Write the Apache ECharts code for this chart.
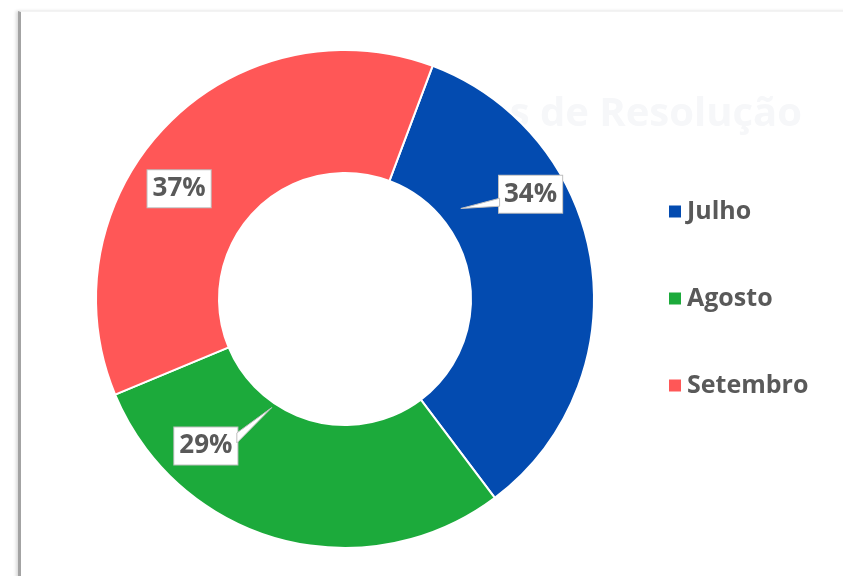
<!DOCTYPE html>
<html>
<head>
<meta charset="utf-8">
<script src="https://cdn.jsdelivr.net/npm/echarts@6/dist/echarts.min.js"></script>
<style>
  html, body { margin: 0; padding: 0; background: #fff; }
  .card {
    position: absolute; left: 18px; top: 11px; width: 830px; height: 570px;
    border-left: 3px solid #a3a3a3; border-top: 1px solid #f3f3f3;
    box-shadow: -2px 0 3px rgba(0,0,0,0.15);
  }
  #chart { position: absolute; left: 0; top: 0; width: 843px; height: 576px; }
</style>
</head>
<body>
<div class="card"></div>
<div id="chart"></div>
<script>
  // dados do gráfico
  var meses = ['Julho', 'Agosto', 'Setembro'];
  var valores = [34, 29, 37];
  var cores = ['#034bb0', '#1caa3b', '#ff5757'];
  var titulo = 'Tempos de Resolução';

  var centro = [345, 299];
  var raios = [126, 249];
  var inicio = 69.4;
  var chart = echarts.init(document.getElementById('chart'));
  // deslocamento dos rótulos em relação ao meio do anel
  var labelOffsets = {0: [0, -78], 1: [-90, -34], 2: [-31, 20]};
  // setas: ângulo a partir do topo, raio da ponta, lado da caixa (x relativo, y1, y2)
  var pontas = {0: [52, 147, -31, 4, 12], 1: [214, 131, 31, -13, -3]};

  var total = valores.reduce(function (a, b) { return a + b; }, 0);
  function meioAnel(i) {
    var antes = 0;
    for (var k = 0; k < i; k++) antes += valores[k];
    var ang = (90 - inicio + (antes + valores[i] / 2) / total * 360) * Math.PI / 180;
    var r = (raios[0] + raios[1]) / 2;
    return [centro[0] + r * Math.sin(ang), centro[1] - r * Math.cos(ang)];
  }

  var setas = Object.keys(pontas).map(function (k) {
    var t = pontas[k];
    var m = meioAnel(+k);
    var cx = m[0] + labelOffsets[k][0], cy = m[1] + labelOffsets[k][1];
    var a = t[0] * Math.PI / 180;
    var tx = centro[0] + t[1] * Math.sin(a), ty = centro[1] - t[1] * Math.cos(a);
    return {
      type: 'polygon',
      z: 10,
      shape: { points: [[tx, ty], [cx + t[2], cy + t[3]], [cx + t[2], cy + t[4]]] },
      style: { fill: '#fff', stroke: '#bfbfbf', lineWidth: 1 }
    };
  });

  var option = {
    backgroundColor: 'transparent',
    title: {
      text: titulo,
      right: 36,
      top: 90,
      z: 0,
      textStyle: { color: '#f6f7f9', fontSize: 40, fontWeight: 'bold', fontFamily: 'Open Sans' }
    },
    legend: {
      orient: 'vertical',
      left: 662,
      top: 194,
      itemWidth: 14,
      itemHeight: 14,
      itemGap: 62,
      icon: 'rect',
      textStyle: { color: '#595959', fontSize: 25, fontWeight: 'bold', fontFamily: 'Open Sans' },
      data: meses
    },
    graphic: setas,
    series: [{
      type: 'pie',
      center: centro,
      radius: raios,
      startAngle: inicio,
      z: 2,
      itemStyle: { borderColor: '#fff', borderWidth: 2 },
      label: {
        show: true,
        position: 'inside',
        formatter: '{d}%',
        color: '#595959',
        fontSize: 26,
        fontWeight: 'bold',
        fontFamily: 'Open Sans',
        backgroundColor: '#fff',
        borderColor: '#bfbfbf',
        borderWidth: 1,
        padding: [7, 5, 4, 5]
      },
      labelLayout: function (p) {
        var i = p.dataIndex;
        var o = labelOffsets[i];
        var m = meioAnel(i);
        var r = p.labelRect;
        return { dx: m[0] + o[0] - (r.x + r.width / 2), dy: m[1] + o[1] - (r.y + r.height / 2) };
      },
      emphasis: { disabled: true },
      data: meses.map(function (m, i) {
        return { name: m, value: valores[i], itemStyle: { color: cores[i] } };
      })
    }]
  };
  chart.setOption(option);
</script>
</body>
</html>
